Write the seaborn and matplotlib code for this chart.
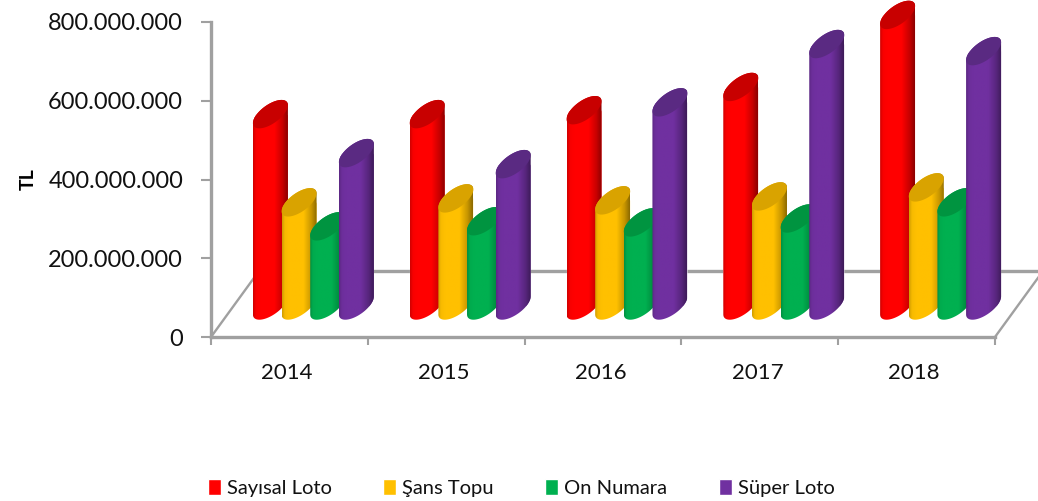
import numpy as np
import pandas as pd
import matplotlib
matplotlib.use('Agg')
import matplotlib.pyplot as plt
from matplotlib.path import Path
from matplotlib.colors import to_rgb
import seaborn as sns

sns.set_style('white')
plt.rcParams['font.family'] = ['Lato', 'DejaVu Sans']

years = ['2014', '2015', '2016', '2017', '2018']
series = ['Sayısal Loto', 'Şans Topu', 'On Numara', 'Süper Loto']
sayisal = [486e6, 486e6, 496e6, 555e6, 738e6]
sans = [262e6, 272e6, 267e6, 277e6, 300e6]
on_numara = [201e6, 214e6, 211e6, 221e6, 262e6]
super_loto = [387e6, 359e6, 516e6, 664e6, 646e6]
colors = ['#FF0000', '#FFC000', '#00B050', '#7030A0']
cap_colors = ['#C80000', '#D9A300', '#009440', '#5A2A82']
y_ticks = [0, 200e6, 400e6, 600e6, 800e6]
y_labels = ['0', '200.000.000', '400.000.000', '600.000.000', '800.000.000']

df = pd.DataFrame({
    'year': years * 4,
    'serie': np.repeat(series, 5),
    'value': sayisal + sans + on_numara + super_loto,
})

W, H = 1038, 501
GRAY = '#A0A0A0'
fig = plt.figure(figsize=(W / 100, H / 100), dpi=100)


def place(left, right, y_zero, y_top):
    return [left / W, 1 - y_zero / H, (right - left) / W, (y_zero - y_top) / H]


# front plane: axis lines, ticks and labels
ax0 = fig.add_axes(place(211, 995, 337, 22))
ax0.set_xlim(-0.5, 4.5)
ax0.set_ylim(0, 800e6)
sns.despine(ax=ax0)
for side in ['left', 'bottom']:
    ax0.spines[side].set_color(GRAY)
    ax0.spines[side].set_linewidth(2.4)
ax0.set_yticks(y_ticks, y_labels, fontsize=17, color='#111111')
ax0.set_xticks(np.arange(-0.5, 5), [])
ax0.set_xticks(np.arange(5) - 0.015, years, minor=True, fontsize=16, color='#111111')
ax0.tick_params(axis='y', length=7, width=1.5, color=GRAY, pad=13, left=True)
ax0.tick_params(axis='x', which='major', length=6, width=1.5, color=GRAY, bottom=True)
ax0.tick_params(axis='x', which='minor', length=0, pad=19)
ax0.set_ylabel('TL', fontsize=14, fontweight='bold', labelpad=8, color='black')

# floor of the 3d box, in pixels per data unit
px_x = 1 / 156.8
px_y = 800e6 / 315
depth_x, depth_y = 48 * px_x, 66 * px_y
ax0.plot([-0.5, -0.5 + depth_x], [0, depth_y], color=GRAY, lw=1.7, clip_on=False)
ax0.plot([4.5, 4.5 + depth_x], [0, depth_y], color=GRAY, lw=1.7, clip_on=False)
ax0.plot([-0.5 + depth_x, 4.5 + depth_x], [depth_y, depth_y], color=GRAY, lw=2.4, clip_on=False)

# bars sit half way into the box, axes run a little below zero for the round bases
y_low = -20 * px_y
ax = fig.add_axes(place(235, 1019, 325.5, -9.5))
ax.patch.set_alpha(0)
sns.barplot(data=df, x='year', y='value', hue='serie', palette=colors,
            width=0.731, gap=0, saturation=1, ax=ax)

a = 17.5
tilt_c, tilt_s = 9, 11
shade = np.interp(np.linspace(0, 1, 80), [0, 0.08, 0.2, 0.62, 0.85, 1],
                  [0.82, 0.97, 1, 1, 0.78, 0.55])

for i, cont in enumerate(ax.containers):
    for bar in cont:
        cx = bar.get_x() + bar.get_width() / 2
        val = bar.get_height()
        half = a * px_x
        t1 = np.linspace(np.pi, 2 * np.pi, 40)
        t2 = np.linspace(0, np.pi, 40)
        yup = lambda t: (tilt_c * np.cos(t) + tilt_s * np.sin(t)) * px_y
        xs = np.r_[cx + half * np.cos(t1), cx + half * np.cos(t2)]
        ys = np.r_[yup(t1), val + yup(t2)]
        outline = Path(np.c_[xs, ys])
        bar.set_x(cx - half)
        bar.set_width(2 * half)
        bar.set_clip_path(outline, ax.transData)
        grad = np.outer(shade, to_rgb(colors[i]))[None, :, :]
        img = ax.imshow(grad, extent=(cx - half, cx + half, y_low, val + 20 * px_y),
                        aspect='auto', zorder=3 + i, interpolation='bilinear')
        img.set_clip_path(outline, ax.transData)
        t = np.linspace(0, 2 * np.pi, 80)
        ax.fill(cx + half * np.cos(t), val + yup(t), color=cap_colors[i], lw=0,
                zorder=3 + i)

ax.set_ylim(y_low, 800e6)
ax.set_xlim(-0.5, 4.5)
ax.axis('off')

sns.move_legend(ax, 'lower left', bbox_to_anchor=(208 / W, 1 - 497 / H),
                bbox_transform=fig.transFigure, ncol=4, title=None, frameon=False,
                fontsize=14.5, handlelength=0.65, handleheight=0.85, handletextpad=0.3,
                columnspacing=2.55, labelcolor='#111111', borderpad=0, borderaxespad=0)

fig.savefig('out.png', dpi=100)
